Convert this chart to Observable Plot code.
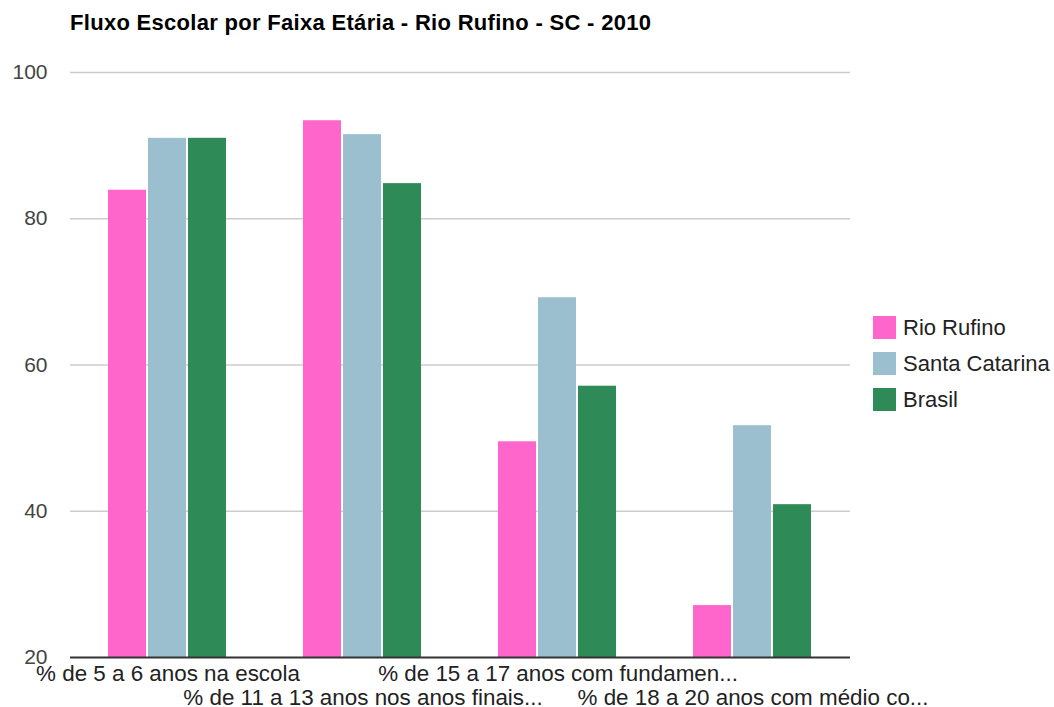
<!DOCTYPE html>
<html>
<head>
<meta charset="utf-8">
<script src="https://cdn.jsdelivr.net/npm/d3@7"></script>
<script src="https://cdn.jsdelivr.net/npm/@observablehq/plot@0.6"></script>
<style>
  html, body { margin: 0; padding: 0; background: #fff; }
  #wrap { position: relative; width: 1054px; height: 707px; font-family: "Liberation Sans", Arial, sans-serif; }
  #title { position: absolute; left: 70px; top: 12px; font-size: 22px; letter-spacing: 0.3px; line-height: 22px; font-weight: bold; color: #000; white-space: nowrap; }
  #legend { position: absolute; left: 873px; top: 316px; }
  .item { display: flex; align-items: center; height: 23px; margin-bottom: 13px; }
  .sw { width: 23px; height: 23px; margin-right: 7px; flex: none; }
  .lab { font-size: 22px; line-height: 23px; color: #222; white-space: nowrap; }
  svg { position: absolute; left: 0; top: 0; }
</style>
</head>
<body>
<div id="wrap">
  <div id="chart"></div>
  <div id="title"></div>
  <div id="legend"></div>
</div>
<script>
const titleText = "Fluxo Escolar por Faixa Etária - Rio Rufino - SC - 2010";
const categories = [
  "% de 5 a 6 anos na escola",
  "% de 11 a 13 anos nos anos finais...",
  "% de 15 a 17 anos com fundamen...",
  "% de 18 a 20 anos com médio co..."
];
const series = ["Rio Rufino", "Santa Catarina", "Brasil"];
const rioRufino = [83.9, 93.4, 49.5, 27.1];
const santaCatarina = [91.0, 91.5, 69.2, 51.7];
const brasil = [91.0, 84.8, 57.1, 40.9];
const colors = ["#ff66cc", "#9bbfce", "#2e8b57"];
const yTicks = [20, 40, 60, 80, 100];

const valuesBySeries = [rioRufino, santaCatarina, brasil];
const data = [];
categories.forEach((c, i) => {
  series.forEach((s, j) => data.push({category: c, series: s, value: valuesBySeries[j][i]}));
});

const chart = Plot.plot({
  width: 1054,
  height: 707,
  marginLeft: 70,
  marginRight: 204,
  marginTop: 72,
  marginBottom: 50,
  style: {fontFamily: "'Liberation Sans', Arial, sans-serif", fontSize: "21px", background: "transparent"},
  fx: {domain: categories, padding: 0, axis: null, label: null},
  x: {domain: series, paddingInner: 0.05, paddingOuter: 0.96, align: 0.49, axis: null},
  y: {domain: [20, 100], axis: null},
  color: {domain: series, range: colors},
  marks: [
    Plot.ruleY(yTicks.slice(1), {stroke: "#cccccc", strokeWidth: 1.5}),
    Plot.axisY({ticks: yTicks, tickSize: 0, tickPadding: 23, fontSize: 21, fill: "#444", label: null, anchor: "left"}),
    Plot.barY(data, {fx: "category", x: "series", y1: 20, y2: "value", fill: "series"}),
    Plot.ruleY([20], {stroke: "#333", strokeWidth: 2}),
    Plot.axisFx({anchor: "bottom", ticks: [categories[0], categories[2]], tickSize: 0, tickPadding: 7.5, fontSize: 22.4, fill: "#222", label: null}),
    Plot.axisFx({anchor: "bottom", ticks: [categories[1], categories[3]], tickSize: 0, tickPadding: 31.5, fontSize: 22.4, fill: "#222", label: null})
  ]
});
document.getElementById("chart").appendChild(chart);
document.getElementById("title").textContent = titleText;

const legend = document.getElementById("legend");
series.forEach((s, i) => {
  const item = document.createElement("div");
  item.className = "item";
  const sw = document.createElement("div");
  sw.className = "sw";
  sw.style.background = colors[i];
  const lab = document.createElement("span");
  lab.className = "lab";
  lab.textContent = s;
  item.appendChild(sw);
  item.appendChild(lab);
  legend.appendChild(item);
});
</script>
</body>
</html>
